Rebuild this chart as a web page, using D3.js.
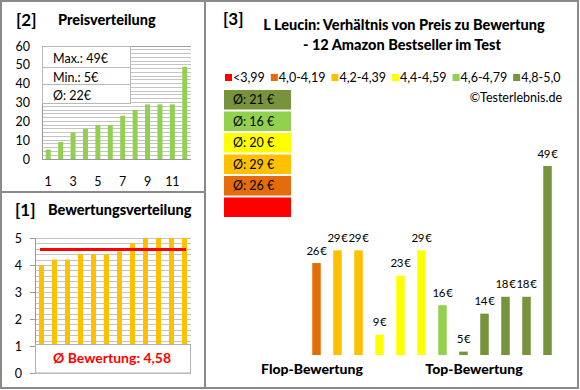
<!DOCTYPE html>
<html><head><meta charset="utf-8">
<script src="https://cdn.jsdelivr.net/npm/d3@7"></script>
<style>
body{margin:0;background:#fff;}
svg text{font-family:Lato,"Open Sans",sans-serif;}
</style></head>
<body><svg id="c" width="580" height="390"></svg>
<script>
// ---- data ----
const pricesSorted = [5, 9, 14, 16, 18, 18, 23, 26, 29, 29, 29, 49];
const ratingsSorted = [4.0, 4.2, 4.2, 4.4, 4.4, 4.4, 4.5, 4.8, 5.0, 5.0, 5.0, 5.0];
const productPrices = [26, 29, 29, 9, 23, 29, 16, 5, 14, 18, 18, 49];
const productClass = [1, 2, 2, 3, 3, 3, 4, 5, 5, 5, 5, 5];
const classLabels = ["<3,99", "4,0-4,19", "4,2-4,39", "4,4-4,59", "4,6-4,79", "4,8-5,0"];
const classColors = ["#FF0000", "#E46C0A", "#FFC000", "#FFFF00", "#92D050", "#77933C"];
const classAvgLabels = ["", "Ø: 26 €", "Ø: 29 €", "Ø: 20 €", "Ø: 16 €", "Ø: 21 €"];
const priceTicks = [0, 10, 20, 30, 40, 50, 60];
const priceXTicks = [1, 3, 5, 7, 9, 11];
const ratingTicks = [0, 1, 2, 3, 4, 5];
const infoLines = ["Max.: 49€", "Min.: 5€", "Ø: 22€"];
const avgRatingLabel = "Ø Bewertung: 4,58";

const svg = d3.select("#c");
svg.append("rect").attr("width",580).attr("height",390).attr("fill","#fff");

const frame = "#8a8a8a";
// ---------- Panel 2 ----------
{
  const g = svg.append("g");
  const y = d3.scaleLinear().domain([0,60]).range([159,46]);
  const x = d3.scalePoint().domain(d3.range(1,13)).range([42,191]).padding(0.5);
  g.selectAll("line.g").data(d3.range(0,61,2)).join("line")
    .attr("x1",42).attr("x2",191).attr("y1",d=>y(d)).attr("y2",d=>y(d))
    .attr("stroke",d=>d===60?"#a0a0a0":"#c4c4c4").attr("stroke-width",1).attr("shape-rendering","crispEdges");
  g.append("line").attr("x1",42).attr("x2",42).attr("y1",46).attr("y2",159).attr("stroke","#999").attr("shape-rendering","crispEdges");
  g.append("line").attr("x1",42).attr("x2",191).attr("y1",159).attr("y2",159).attr("stroke","#999").attr("shape-rendering","crispEdges");
  g.selectAll("rect.b").data(pricesSorted).join("rect")
    .attr("x",(d,i)=>x(i+1)-2.5).attr("width",5)
    .attr("y",d=>y(d)).attr("height",d=>y(0)-y(d)).attr("fill","#92D050");
  g.selectAll("text.yt").data(priceTicks).join("text")
    .attr("x",30).attr("y",d=>y(d)+4.5).attr("text-anchor","end")
    .attr("font-size",12.5).attr("fill","#000").text(d=>d);
  g.selectAll("text.xt").data(priceXTicks).join("text")
    .attr("x",d=>x(d)).attr("y",186).attr("text-anchor","middle")
    .attr("font-size",12.5).text(d=>d);
  g.append("rect").attr("x",42.5).attr("y",46.5).attr("width",88).attr("height",57)
    .attr("fill","#fff").attr("stroke","#b8b8b8");
  [67,84].forEach(v=>g.append("line").attr("x1",42.5).attr("x2",130.5).attr("y1",v+.5).attr("y2",v+.5).attr("stroke","#b8b8b8"));
  g.selectAll("text.info").data(infoLines).join("text")
    .attr("x",53).attr("y",(d,i)=>[63,82,99.5][i]).attr("font-size",12.5).text(d=>d);
  g.append("text").attr("x",16).attr("y",26).attr("font-size",17).attr("font-weight","bold").text("[2]");
  g.append("text").attr("x",58).attr("y",25).attr("font-size",14.5).attr("font-weight","900").text("Preisverteilung");
}
// ---------- Panel 1 ----------
{
  const g = svg.append("g");
  const y = d3.scaleLinear().domain([0,5]).range([373,238]);
  const x = d3.scalePoint().domain(d3.range(12)).range([35,191]).padding(0.5);
  g.selectAll("line.g").data(d3.range(0,26).map(i=>i*0.2)).join("line")
    .attr("x1",35).attr("x2",191).attr("y1",d=>Math.round(y(d))+.5).attr("y2",d=>Math.round(y(d))+.5)
    .attr("stroke","#c4c4c4");
  g.append("line").attr("x1",35.5).attr("x2",35.5).attr("y1",238).attr("y2",373).attr("stroke","#999");
  g.selectAll("line.tk").data(ratingTicks).join("line")
    .attr("x1",30).attr("x2",35).attr("y1",d=>Math.round(y(d))+.5).attr("y2",d=>Math.round(y(d))+.5).attr("stroke","#999");
  g.selectAll("rect.b").data(ratingsSorted).join("rect")
    .attr("x",(d,i)=>x(i)-2.5).attr("width",5)
    .attr("y",d=>y(d)).attr("height",d=>y(0)-y(d)).attr("fill","#FFC000");
  const avg = d3.mean(ratingsSorted);
  g.append("line").attr("x1",40).attr("x2",186).attr("y1",y(avg)).attr("y2",y(avg))
    .attr("stroke","#FF0000").attr("stroke-width",3);
  g.append("rect").attr("x",35.5).attr("y",344.5).attr("width",155).attr("height",28.5)
    .attr("fill","#fff").attr("stroke","#b0b0b0");
  g.append("text").attr("x",112).attr("y",363).attr("text-anchor","middle")
    .attr("font-size",14).attr("font-weight","bold").attr("fill","#FF0000").text(avgRatingLabel);
  g.selectAll("text.yt").data(ratingTicks).join("text")
    .attr("x",22).attr("y",d=>y(d)+4.5).attr("text-anchor","end")
    .attr("font-size",12.5).text(d=>d);
  g.append("text").attr("x",15).attr("y",216).attr("font-size",17).attr("font-weight","bold").text("[1]");
  g.append("text").attr("x",48).attr("y",215).attr("font-size",14.5).attr("font-weight","900").text("Bewertungsverteilung");
}
// ---------- Panel 3 ----------
{
  const g = svg.append("g");
  g.append("text").attr("x",223).attr("y",25).attr("font-size",17).attr("font-weight","bold").text("[3]");
  g.append("text").attr("x",404).attr("y",30).attr("text-anchor","middle").attr("font-size",14.5).attr("font-weight","900")
    .text("L Leucin: Verhältnis von Preis zu Bewertung");
  g.append("text").attr("x",402).attr("y",50).attr("text-anchor","middle").attr("font-size",14.5).attr("font-weight","900")
    .text("- 12 Amazon Bestseller im Test");
  let lx = 225;
  classLabels.forEach((lab,i)=>{
    g.append("rect").attr("x",lx).attr("y",74).attr("width",7).attr("height",7).attr("fill",classColors[i]);
    const t = g.append("text").attr("x",lx+8).attr("y",82).attr("font-size",12.5).text(lab);
    lx += 8 + t.node().getComputedTextLength() + 6;
  });
  g.append("text").attr("x",562).attr("y",102).attr("text-anchor","end").attr("font-size",12.5).text("©Testerlebnis.de");
  const order = [5,4,3,2,1,0];
  order.forEach((c,k)=>{
    const by = 90 + k*21.5;
    g.append("rect").attr("x",224).attr("y",by).attr("width",67).attr("height",19.5).attr("fill",classColors[c]);
    g.append("text").attr("x",233).attr("y",by+14).attr("font-size",12.5).attr("fill","#000").text(classAvgLabels[c]);
  });
  const x = d3.scalePoint().domain(d3.range(12)).range([306,558]).padding(0.5);
  const y = d3.scaleLinear().domain([4.2,49]).range([355,166]);
  g.selectAll("rect.b").data(productPrices).join("rect")
    .attr("x",(d,i)=>x(i)-4.25).attr("width",8.5)
    .attr("y",d=>y(d)).attr("height",d=>y(4.2)-y(d))
    .attr("fill",(d,i)=>classColors[productClass[i]]);
  g.selectAll("text.bl").data(productPrices).join("text")
    .attr("x",(d,i)=>x(i)).attr("y",d=>y(d)-8.5).attr("text-anchor","middle")
    .attr("font-size",11.5).attr("letter-spacing","-0.4").text(d=>d+"\u2009€");
  g.append("text").attr("x",312).attr("y",374).attr("text-anchor","middle").attr("font-size",14).attr("font-weight","900").text("Flop-Bewertung");
  g.append("text").attr("x",474).attr("y",374).attr("text-anchor","middle").attr("font-size",14).attr("font-weight","900").text("Top-Bewertung");
}
svg.append("rect").attr("x",1).attr("y",1).attr("width",577).attr("height",387).attr("fill","none").attr("stroke",frame).attr("stroke-width",2);
svg.append("line").attr("x1",205).attr("x2",205).attr("y1",1).attr("y2",388).attr("stroke",frame).attr("stroke-width",2);
svg.append("line").attr("x1",1).attr("x2",205).attr("y1",192).attr("y2",192).attr("stroke",frame).attr("stroke-width",2);
</script></body></html>
